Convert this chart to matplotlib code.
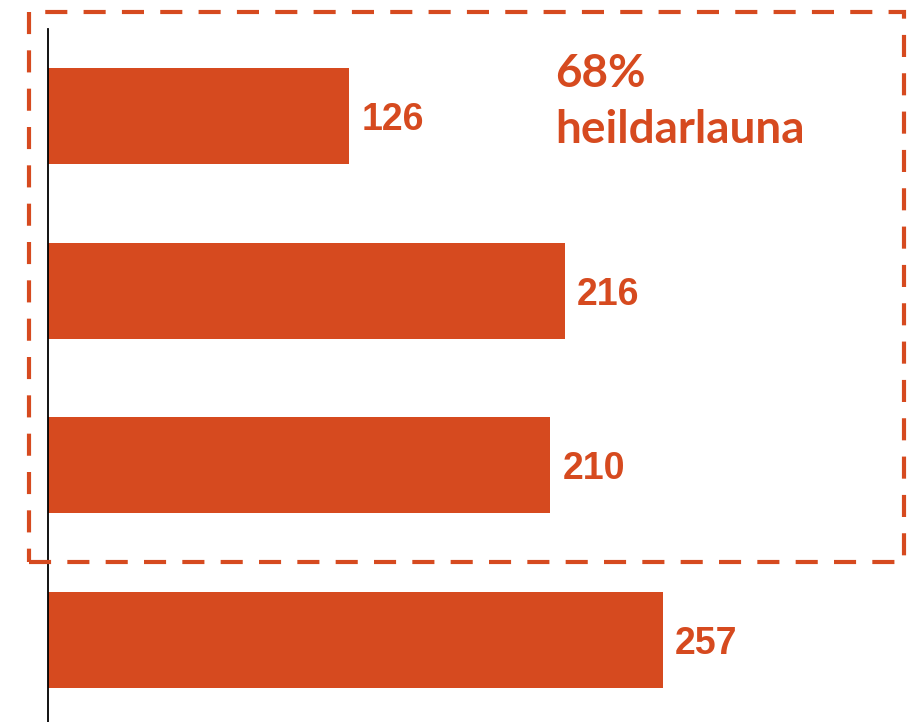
"""Horizontal bar chart with a dashed highlight box."""

import matplotlib.pyplot as plt
from matplotlib.patches import Rectangle

categories = ["A", "B", "C", "D"]
values = [126, 216, 210, 257]
note_lines = ["68%", "heildarlauna"]

ORANGE = "#D64A1F"
W, H = 914, 722


def main() -> None:
    fig = plt.figure(figsize=(W / 100, H / 100), dpi=100)
    ax = fig.add_axes([48 / W, 0, 1 - 48 / W, (H - 29) / H])

    pos = list(range(len(categories)))
    bars = ax.barh(pos, values, height=0.55, color=ORANGE)
    ax.set_xlim(0, 362)
    ax.set_ylim(3.47, -0.5)

    for rect, v in zip(bars, values):
        ax.annotate(
            str(v),
            xy=(rect.get_width(), rect.get_y() + rect.get_height() / 2),
            xytext=(12, 0),
            textcoords="offset pixels",
            va="center_baseline",
            ha="left",
            fontsize=27,
            fontweight="bold",
            family="Liberation Sans",
            color=ORANGE,
        )

    for side in ("top", "right", "bottom"):
        ax.spines[side].set_visible(False)
    ax.spines["left"].set_color("black")
    ax.spines["left"].set_linewidth(1.3)
    ax.set_xticks([])
    ax.set_yticks([])

    # dashed highlight around the first three bars
    box = Rectangle(
        (29 / W, 1 - 562 / H),
        (904 - 29) / W,
        (562 - 12) / H,
        transform=fig.transFigure,
        fill=False,
        edgecolor=ORANGE,
        linewidth=3.0,
        linestyle=(0, (5.3, 3.9)),
    )
    fig.patches.append(box)

    for line, base in zip(note_lines, [87, 143]):
        fig.text(
            555 / W,
            1 - base / H,
            line,
            ha="left",
            va="baseline",
            fontsize=33,
            fontweight="bold",
            family="Lato",
            color=ORANGE,
        )

    fig.savefig("out.png", dpi=100)
    plt.close(fig)


if __name__ == "__main__":
    main()
